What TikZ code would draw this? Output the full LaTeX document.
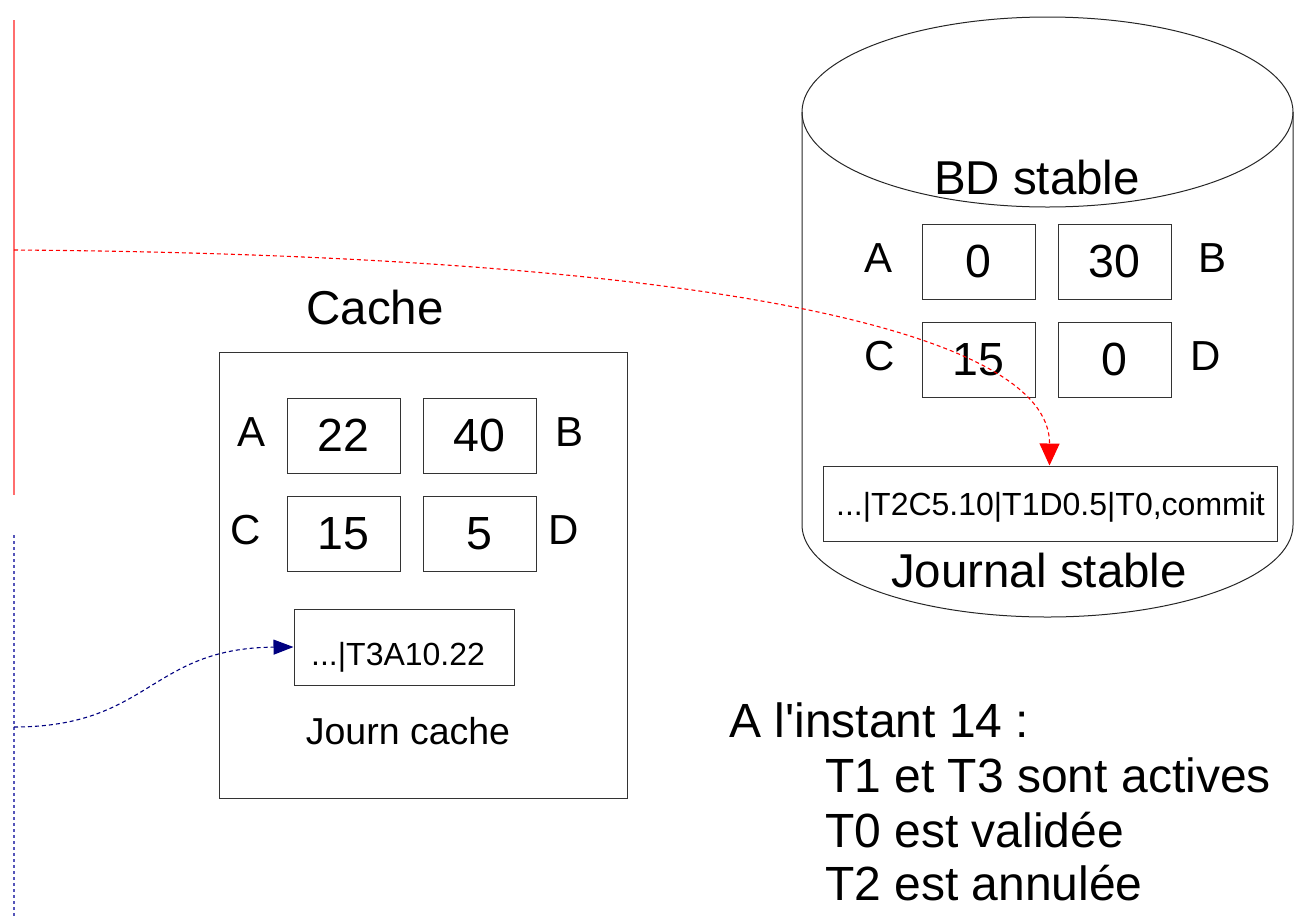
\documentclass[tikz,border=0pt]{standalone}
\usepackage{fontspec}
\setmainfont{Liberation Sans}[Ligatures=TeXOff]
\usetikzlibrary{arrows.meta}
\definecolor{lightred}{RGB}{255,110,110}
\definecolor{dotblue}{RGB}{85,85,185}
\definecolor{arrblue}{RGB}{0,0,128}
\begin{document}
\begin{tikzpicture}[x=1pt,y=-1pt,
  cell/.style={draw=black!80,line width=1pt,minimum width=113pt,minimum height=75pt,inner sep=0pt,font=\fontsize{46.5}{50}\selectfont},
  lbl/.style={anchor=base,inner sep=0pt,font=\fontsize{42}{46}\selectfont},
  title/.style={anchor=base,inner sep=0pt,font=\fontsize{47.5}{54}\selectfont},
  note/.style={anchor=base west,inner sep=0pt,font=\fontsize{48}{54}\selectfont},
  frame/.style={draw=black!80,line width=1pt,inner sep=0pt},
  reddash/.style={draw=red,line width=1.1pt,dash pattern=on 4pt off 3pt,-{Triangle[length=22pt,width=20pt]}},
  bluedash/.style={draw=arrblue,line width=1.1pt,dash pattern=on 4pt off 3pt,-{Triangle[length=20pt,width=15pt]}}]
\useasboundingbox (0,0) rectangle (1295,916);
% time lines
\draw[lightred,line width=2.4pt] (14,20) -- (14,495);
\draw[dotblue,line width=2.4pt,dash pattern=on 3pt off 3pt] (14,535) -- (14,916);
\coordinate (rs) at (14,250);
\coordinate (bs) at (14,727);
% cache
\node[frame,minimum width=408pt,minimum height=446pt] (cache) at (423,575) {};
\node[title] (cachet) at (375,324) {Cache};
\node[cell] (c22) at (343.5,435.5) {22};
\node[cell] (c40) at (479.5,435.5) {40};
\node[cell] (c15) at (343.5,533.5) {15};
\node[cell] (c5) at (479.5,533.5) {5};
\node[lbl] (ca) at (252,446) {A};
\node[lbl] (cb) at (569.5,446) {B};
\node[lbl] (cc) at (246,544) {C};
\node[lbl] (cd) at (563.5,544) {D};
\node[frame,minimum width=220pt,minimum height=76pt] (t3) at (404,647) {};
\node[anchor=base west,inner sep=0pt,font=\fontsize{32}{36}\selectfont] (t3t) at (311,665) {...|T3A10.22};
\node[anchor=base,inner sep=0pt,font=\fontsize{37.5}{42}\selectfont] (jc) at (408,744) {Journ cache};
% stable DB cylinder
\draw[black!85,line width=1pt] (1047.5,112) ellipse [x radius=245.5pt, y radius=95pt];
\draw[black!85,line width=1pt] (802,112) -- (802,525) arc[start angle=180,end angle=360,x radius=245.5pt,y radius=92pt] -- (1293,112);
\node[title] (bdt) at (1037,194) {BD stable};
\node[cell] (s0) at (978.5,261.5) {0};
\node[cell] (s30) at (1114.5,261.5) {30};
\node[cell] (s15) at (978.5,359.5) {15};
\node[cell] (s0b) at (1114.5,359.5) {0};
\node[lbl] (sa) at (878,272) {A};
\node[lbl] (sb) at (1212,272) {B};
\node[lbl] (sc) at (880,370) {C};
\node[lbl] (sd) at (1206,370) {D};
\node[frame,minimum width=454pt,minimum height=75pt] (js) at (1050,503.5) {};
\node[anchor=base,inner sep=0pt,font=\fontsize{32}{36}\selectfont] (jst) at (1050.5,515) {...|T2C5.10|T1D0.5|T0,commit};
\node[title] (jstab) at (1039,587) {Journal stable};
% notes
\node[note] (n0) at (729,737) {A l'instant 14 :};
\node[note] (n1) at (825,792) {T1 et T3 sont actives};
\node[note] (n2) at (825,847) {T0 est validée};
\node[note] (n3) at (825,900) {T2 est annulée};
% connectors
\draw[reddash] (rs) .. controls (700,255) and (1050,330) .. ([xshift=227pt]js.north west);
\draw[bluedash] (bs) .. controls (150,727) and (150,648) .. (t3.west);
\end{tikzpicture}
\end{document}
